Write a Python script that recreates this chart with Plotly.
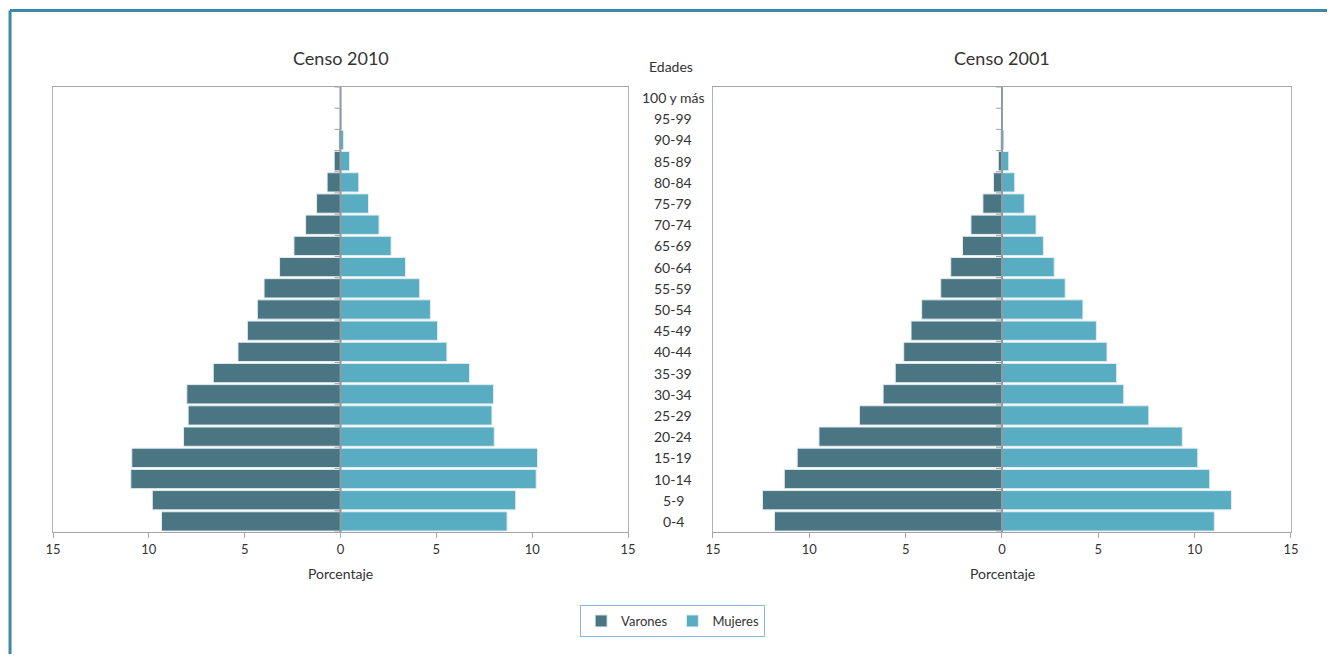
import plotly.graph_objects as go

categories = ["0-4", "5-9", "10-14", "15-19", "20-24", "25-29", "30-34", "35-39",
              "40-44", "45-49", "50-54", "55-59", "60-64", "65-69", "70-74", "75-79",
              "80-84", "85-89", "90-94", "95-99", "100 y más"]

varones_2010 = [9.34, 9.82, 10.94, 10.89, 8.19, 7.95, 8.02, 6.64, 5.35, 4.86, 4.34,
                3.99, 3.18, 2.43, 1.82, 1.25, 0.70, 0.33, 0.08, 0.03, 0.01]
mujeres_2010 = [8.69, 9.14, 10.21, 10.28, 8.02, 7.90, 7.98, 6.73, 5.55, 5.06, 4.69,
                4.13, 3.39, 2.64, 2.01, 1.46, 0.95, 0.47, 0.16, 0.05, 0.01]
varones_2001 = [11.81, 12.43, 11.30, 10.63, 9.50, 7.40, 6.17, 5.54, 5.10, 4.72, 4.17,
                3.18, 2.66, 2.05, 1.61, 0.99, 0.44, 0.19, 0.06, 0.02, 0.01]
mujeres_2001 = [11.02, 11.91, 10.78, 10.16, 9.36, 7.62, 6.32, 5.95, 5.45, 4.90, 4.20,
                3.28, 2.71, 2.15, 1.77, 1.16, 0.66, 0.35, 0.10, 0.03, 0.01]

tick_vals = [-15, -10, -5, 0, 5, 10, 15]
tick_text = ["15", "10", "5", "0", "5", "10", "15"]

C_VAR = "#4a7582"
C_MUJ = "#59adc2"
FONT = "Lato"
TXT = "#333333"

fig = go.Figure()

for i, (var, muj) in enumerate([(varones_2010, mujeres_2010), (varones_2001, mujeres_2001)]):
    xa = "x" if i == 0 else "x2"
    ya = "y" if i == 0 else "y2"
    fig.add_trace(go.Bar(y=categories, x=[-v for v in var], orientation="h", name="Varones",
                         marker=dict(color=C_VAR, line=dict(color="#e4ecef", width=1)),
                         xaxis=xa, yaxis=ya, showlegend=(i == 0), legendgroup="v",
                         hoverinfo="skip"))
    fig.add_trace(go.Bar(y=categories, x=muj, orientation="h", name="Mujeres",
                         marker=dict(color=C_MUJ, line=dict(color="#e4ecef", width=1)),
                         xaxis=xa, yaxis=ya, showlegend=(i == 0), legendgroup="m",
                         hoverinfo="skip"))

axis_common_x = dict(range=[-15, 15], tickvals=tick_vals, ticktext=tick_text,
                     showgrid=False, zeroline=False, showline=True, mirror=True,
                     linecolor="#a6a6a6", linewidth=1, ticks="outside", ticklen=5,
                     tickcolor="#a6a6a6", tickfont=dict(family=FONT, size=13, color=TXT))
axis_common_y = dict(categoryorder="array", categoryarray=categories, range=[-0.5, 20.5],
                     showticklabels=False, showgrid=False, zeroline=False, showline=True,
                     mirror=True, linecolor="#b3b3b3", linewidth=1, ticks="")

fig.update_layout(
    width=1319, height=646,
    margin=dict(l=45, r=36, t=79, b=122),
    paper_bgcolor="white", plot_bgcolor="white",
    barmode="relative", bargap=0.09,
    font=dict(family=FONT, color=TXT),
    xaxis=dict(domain=[0, 0.4645], anchor="y", **axis_common_x),
    yaxis=dict(anchor="x", **axis_common_y),
    xaxis2=dict(domain=[0.5331, 1], anchor="y2", **axis_common_x),
    yaxis2=dict(anchor="x2", **axis_common_y),
    legend=dict(orientation="h", x=0.5005, xanchor="center", y=-0.2, yanchor="middle",
                bordercolor="#8eb4e3", borderwidth=1, font=dict(family=FONT, size=13, color=TXT),
                traceorder="normal", itemwidth=30),
)

shapes = []
# outer teal frame
shapes.append(dict(type="line", xref="paper", yref="paper", x0=-0.0347, x1=1.05,
                   y0=1.172, y1=1.172, line=dict(color="#3d88a6", width=3)))
shapes.append(dict(type="line", xref="paper", yref="paper", x0=-0.0347, x1=-0.0347,
                   y0=1.172, y1=-0.35, line=dict(color="#3d88a6", width=3)))
for xa, ya in [("x", "y"), ("x2", "y2")]:
    shapes.append(dict(type="line", xref=xa, yref=ya + " domain", x0=0, x1=0, y0=0, y1=1,
                       line=dict(color="#8c9ca3", width=2), layer="above"))
    for k in range(len(categories) + 1):
        shapes.append(dict(type="line", xref=xa, yref=ya, xsizemode="pixel", xanchor=0,
                           x0=-6, x1=0, y0=k - 0.5, y1=k - 0.5,
                           line=dict(color="#a0a0a0", width=1), layer="above"))

annotations = []
annotations.append(dict(text="Censo 2010", xref="paper", yref="paper", x=0.2326, y=1.065,
                        showarrow=False, font=dict(family=FONT, size=18, color=TXT),
                        xanchor="center", yanchor="middle"))
annotations.append(dict(text="Censo 2001", xref="paper", yref="paper", x=0.7666, y=1.065,
                        showarrow=False, font=dict(family=FONT, size=18, color=TXT),
                        xanchor="center", yanchor="middle"))
annotations.append(dict(text="Edades", xref="paper", yref="paper", x=0.4995, y=1.045,
                        showarrow=False, font=dict(family=FONT, size=14, color=TXT),
                        xanchor="center", yanchor="middle"))
for xc in [0.2326, 0.7666]:
    annotations.append(dict(text="Porcentaje", xref="paper", yref="paper", x=xc, y=-0.094,
                            showarrow=False, font=dict(family=FONT, size=14, color=TXT),
                            xanchor="center", yanchor="middle"))
for c in categories:
    annotations.append(dict(text=c, xref="paper", yref="y", x=0.5012, y=c,
                            showarrow=False, font=dict(family=FONT, size=14, color=TXT),
                            xanchor="center", yanchor="middle"))

fig.update_layout(shapes=shapes, annotations=annotations)
fig.write_html("out.html")
